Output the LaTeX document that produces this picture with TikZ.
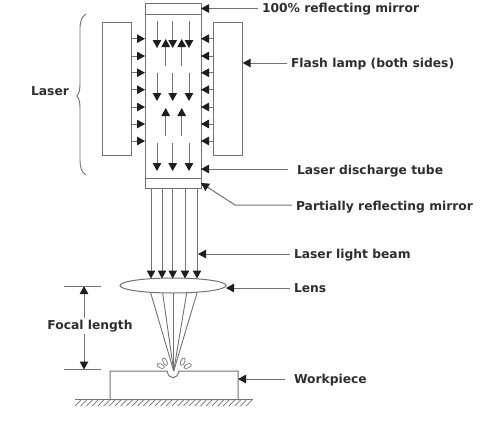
\documentclass[tikz,border=0pt]{standalone}
\usepackage{fontspec}
\setmainfont{DejaVu Sans}
\usetikzlibrary{shapes.geometric, arrows.meta}

\definecolor{linegray}{HTML}{727272}
\definecolor{tipdark}{HTML}{1E1E1E}
\definecolor{textdark}{HTML}{2E2E2E}

\begin{document}
\begin{tikzpicture}[x=1pt, y=-1pt,
        part/.style={rectangle, draw=linegray, fill=white, line width=1pt, inner sep=0pt, outer sep=0pt},
        flow/.style={-{Triangle[length=8pt, width=8.5pt, color=tipdark]}, linegray, line width=1pt},
        ray/.style={linegray, line width=0.9pt},
        label/.style={font=\bfseries\fontsize{12.3}{14}\selectfont, text=textdark, inner xsep=4pt, inner ysep=2pt, outer sep=0pt},
        drop/.style={ellipse, draw=linegray, fill=white, line width=0.7pt, minimum width=8pt, minimum height=4pt, inner sep=0pt}
    ]
        \useasboundingbox (0,0) rectangle (500,421);

        % Tube and mirrors
        \node[part, minimum width=56pt, minimum height=11pt] (topmirror) at (173, 8.5) {};
        \node[part, minimum width=56pt, minimum height=164pt] (tube) at (173, 96) {};
        \node[part, minimum width=56pt, minimum height=10pt] (botmirror) at (173, 183) {};

        % Flash lamps
        \node[part, minimum width=29pt, minimum height=133pt] (lampleft) at (117.3, 89) {};
        \node[part, minimum width=29pt, minimum height=133pt] (lampright) at (228.2, 89) {};
        \foreach \y in {38.7, 56, 72.7, 89.7, 107, 124, 141} {
            \draw[flow] (lampleft.east |- 0,\y) -- (tube.west |- 0,\y);
            \draw[flow] (lampright.west |- 0,\y) -- (tube.east |- 0,\y);
        }

        % Light inside the tube
        \foreach \x in {157, 172.7, 189} {
            \draw[flow] (\x, 21) -- (\x, 48);
            \draw[flow] (\x, 73) -- (\x, 101);
            \draw[flow] (\x, 143) -- (\x, 171);
        }
        \foreach \x in {165.7, 181.7} {
            \draw[flow] (\x, 66) -- (\x, 39);
            \draw[flow] (\x, 136) -- (\x, 108);
        }

        % Lens
        \node[part, ellipse, minimum width=106pt, minimum height=15pt] (lens) at (173, 285.5) {};

        % Beam and focused rays
        \coordinate (focus) at (173.7, 371);
        \foreach \x in {151, 162, 172.7, 185, 197} {
            \draw[flow] (botmirror.south -| \x,0) -- (\x, 278.5);
        }
        \foreach \x in {150.7, 162.7, 173.7, 186.7, 197} {
            \draw[ray] (\x, 293) -- (focus);
        }

        % Workpiece
        \draw[linegray, line width=1pt] (110, 371) -- (167, 371) .. controls (169, 380) and (177, 380) .. (179, 371) -- (238, 371) -- (238, 399.5) -- (110, 399.5) -- cycle;
        \coordinate (work) at (238, 379);
        \node[drop, rotate=-65] (dropa) at (165, 361.7) {};
        \node[drop, rotate=-25] (dropb) at (160.7, 366) {};
        \node[drop, rotate=65] (dropc) at (182.7, 361.7) {};
        \node[drop, rotate=25] (dropd) at (187.7, 366) {};

        % Ground
        \draw[linegray, line width=1pt] (75, 399.5) -- (253, 399.5);
        \foreach \x in {81, 86.7, ..., 254} {
            \draw[ray, line width=0.7pt] (\x, 400) -- (\x-6, 406);
        }

        % Laser brace
        \node[label] (laser) at (50, 91) {Laser};
        \draw[linegray, line width=0.9pt] (86, 14) .. controls (81, 17) and (80, 22) .. (80, 30) -- (80, 84) .. controls (80, 90) and (79, 94) .. (76.7, 96) .. controls (79, 98) and (80, 102) .. (80, 108) -- (80, 158) .. controls (80, 167) and (81, 172) .. (86, 175);

        % Labels
        \node[label, anchor=west] (lblfull) at (258, 9.5) {100\% reflecting mirror};
        \node[label, anchor=west] (lbllamp) at (287, 64.5) {Flash lamp (both sides)};
        \node[label, anchor=west] (lbltube) at (293, 171) {Laser discharge tube};
        \node[label, anchor=west] (lblpart) at (292, 207) {Partially reflecting mirror};
        \node[label, anchor=west] (lblbeam) at (290, 255) {Laser light beam};
        \node[label, anchor=west] (lbllens) at (290, 288) {Lens};
        \node[label, anchor=west] (lblwork) at (290, 380) {Workpiece};

        % Pointers
        \draw[flow] (lblfull.west |- topmirror.east) -- (topmirror.east);
        \draw[flow] (lbllamp.west |- 0,63) -- (lampright.east |- 0,63);
        \draw[flow, shorten <=5pt] (lbltube.west |- 0,169) -- (tube.east |- 0,169);
        \draw[flow] (lblpart.west |- 0,205) -- (235, 205) -- (botmirror.east);
        \draw[flow] (lblbeam.west |- 0,254) -- (198, 254);
        \draw[flow] (lbllens.west) -- (lbllens.west -| lens.east);
        \draw[flow, shorten <=5pt] (lblwork.west |- work) -- (work);

        % Focal length
        \node[label] (focal) at (90, 326) {Focal length};
        \coordinate (ftop) at (84, 286);
        \coordinate (fbot) at (84, 369.5);
        \draw[flow] (focal.north -| ftop) -- (ftop);
        \draw[flow] (focal.south -| fbot) -- (fbot);
        \draw[ray, line width=1pt] (64, 286) -- (101, 286);
        \draw[ray, line width=1pt] (64, 369.5) -- (101, 369.5);

    \end{tikzpicture}
\end{document}
